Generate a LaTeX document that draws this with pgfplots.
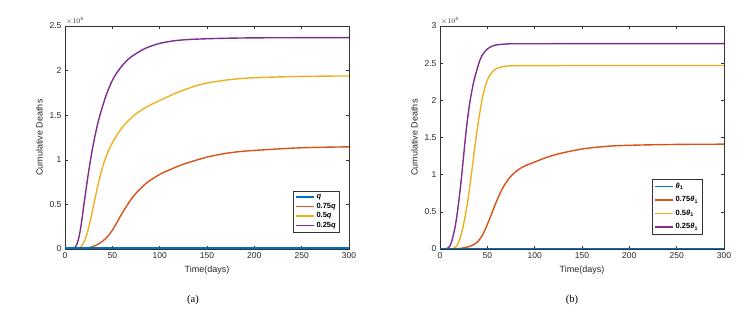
\documentclass[border=0pt]{standalone}
\usepackage{pgfplots}
\pgfplotsset{compat=1.18}
\usepackage{fontspec}
\setmainfont{Liberation Sans}
\newfontfamily\capfont{Liberation Serif}
\definecolor{mblue}{rgb}{0,0.447,0.741}
\definecolor{mred}{rgb}{0.85,0.325,0.098}
\definecolor{myellow}{rgb}{0.929,0.694,0.125}
\definecolor{mpurple}{rgb}{0.494,0.184,0.556}
\pgfplotsset{
  cur/.style={line width=1.4pt, smooth, tension=0.5},
  mstyle/.style={
    scale only axis, width=284pt, height=223pt,
    xmin=0, xmax=300, ymin=0,
    xtick={0,50,...,300},
    axis line style={black!80, line width=0.5pt},
    tick style={black!80, line width=0.5pt},
    major tick length=3pt,
    tick align=inside,
    ticklabel style={font=\fontsize{8.5}{10}\selectfont, text=black!85},
    /pgf/number format/assume math mode=true,
    /pgf/number format/fixed,
    xlabel={Time(days)},
    ylabel={Cumulative Deaths},
    label style={font=\fontsize{9}{10}\selectfont, text=black!85},
    xlabel style={yshift=-1pt},
    ylabel style={yshift=0pt},
    legend style={font=\fontsize{7.5}{8.5}\selectfont\bfseries, draw=black!80, line width=0.6pt,
      inner xsep=2pt, inner ysep=1.5pt, cells={anchor=west}},
    legend image code/.code={\draw[#1, line width=1.4pt] (0pt,0pt) -- (18pt,0pt);},
    legend cell align=left,
  }
}
\begin{document}
\begin{tikzpicture}
\useasboundingbox (0,0) rectangle (747pt,312pt);
\begin{axis}[mstyle, name=A, at={(65pt,63pt)}, anchor=south west, ymax=2.5,
  ytick={0,0.5,...,2.5},
  legend style={at={(axis cs:290.5,0.18)}, anchor=south east, row sep=-1pt}]
\addplot[mred, cur, forget plot] coordinates {(0,0) (15,0.002) (20,0.006) (25,0.015) (30,0.03) (35,0.055) (40,0.09) (45,0.14) (50,0.21) (55,0.3) (60,0.395) (65,0.48) (70,0.56) (75,0.625) (80,0.68) (85,0.73) (90,0.77) (100,0.835) (110,0.885) (125,0.95) (150,1.03) (175,1.08) (200,1.105) (250,1.135) (300,1.145)};
\addplot[myellow, cur, forget plot] coordinates {(0,0) (12,0.002) (15,0.01) (18,0.04) (21,0.1) (24,0.2) (27,0.33) (30,0.48) (33,0.63) (36,0.77) (40,0.93) (45,1.08) (50,1.19) (55,1.28) (60,1.355) (67,1.44) (75,1.515) (85,1.585) (100,1.665) (120,1.76) (140,1.835) (155,1.87) (175,1.9) (200,1.92) (250,1.935) (300,1.94)};
\addplot[mpurple, cur, forget plot] coordinates {(0,0) (8,0.002) (10,0.01) (12,0.04) (14,0.1) (16,0.2) (18,0.34) (20,0.5) (22,0.65) (24,0.8) (27,1.0) (30,1.18) (34,1.38) (38,1.54) (44,1.74) (50,1.89) (55,1.98) (60,2.05) (67,2.13) (75,2.19) (85,2.25) (100,2.305) (120,2.34) (150,2.357) (200,2.367) (300,2.37)};
\addplot[mblue, line width=2.5pt, forget plot] coordinates {(0,0.003) (100,0.003) (200,0.003) (300,0.003)};
\addlegendimage{mblue}\addlegendentry{\textit{q}}
\addlegendimage{mred}\addlegendentry{0.75\textit{q}}
\addlegendimage{myellow}\addlegendentry{0.5\textit{q}}
\addlegendimage{mpurple}\addlegendentry{0.25\textit{q}}
\end{axis}
\node[anchor=south west, font=\fontsize{7}{8}\selectfont, text=black!85, inner sep=1pt] at (A.north west) {$\times10^{6}$};
\node[font=\capfont\fontsize{10.5}{12}\selectfont] at (193pt,12pt) {(a)};
\begin{axis}[mstyle, name=B, at={(440pt,63pt)}, anchor=south west, ymax=3,
  ytick={0,0.5,...,3},
  legend style={at={(axis cs:277,0.2)}, anchor=south east, row sep=2.5pt}]
\addplot[mred, cur, forget plot] coordinates {(0,0) (15,0.002) (20,0.006) (25,0.015) (30,0.03) (35,0.055) (40,0.1) (45,0.19) (50,0.33) (55,0.49) (60,0.65) (65,0.79) (70,0.9) (75,0.98) (80,1.04) (85,1.085) (90,1.12) (100,1.17) (110,1.22) (125,1.28) (150,1.345) (175,1.38) (200,1.395) (250,1.407) (300,1.41)};
\addplot[myellow, cur, forget plot] coordinates {(0,0) (12,0.002) (14,0.005) (16,0.02) (18,0.05) (20,0.1) (22,0.18) (24,0.28) (26,0.4) (28,0.54) (30,0.7) (32,0.89) (34,1.09) (36,1.29) (38,1.49) (40,1.67) (42,1.83) (44,1.98) (46,2.1) (48,2.2) (51,2.3) (55,2.38) (60,2.43) (67,2.455) (75,2.464) (90,2.467) (150,2.468) (300,2.468)};
\addplot[mpurple, cur, forget plot] coordinates {(0,0) (6,0.002) (8,0.01) (10,0.03) (12,0.09) (14,0.18) (16,0.3) (18,0.46) (20,0.66) (22,0.88) (24,1.13) (26,1.39) (28,1.63) (30,1.84) (32,2.01) (34,2.15) (36,2.27) (39,2.41) (42,2.535) (45,2.615) (50,2.69) (55,2.728) (60,2.746) (70,2.758) (80,2.761) (150,2.762) (300,2.762)};
\addplot[mblue, line width=2.5pt, forget plot] coordinates {(0,0.003) (100,0.003) (200,0.003) (300,0.003)};
\addlegendimage{mblue}\addlegendentry{\textit{θ}\textsubscript{1}}
\addlegendimage{mred}\addlegendentry{0.75\textit{θ}\textsubscript{1}}
\addlegendimage{myellow}\addlegendentry{0.5\textit{θ}\textsubscript{1}}
\addlegendimage{mpurple}\addlegendentry{0.25\textit{θ}\textsubscript{1}}
\end{axis}
\node[anchor=south west, font=\fontsize{7}{8}\selectfont, text=black!85, inner sep=1pt] at (B.north west) {$\times10^{6}$};
\node[font=\capfont\fontsize{10.5}{12}\selectfont] at (572pt,12pt) {(b)};
\end{tikzpicture}
\end{document}
